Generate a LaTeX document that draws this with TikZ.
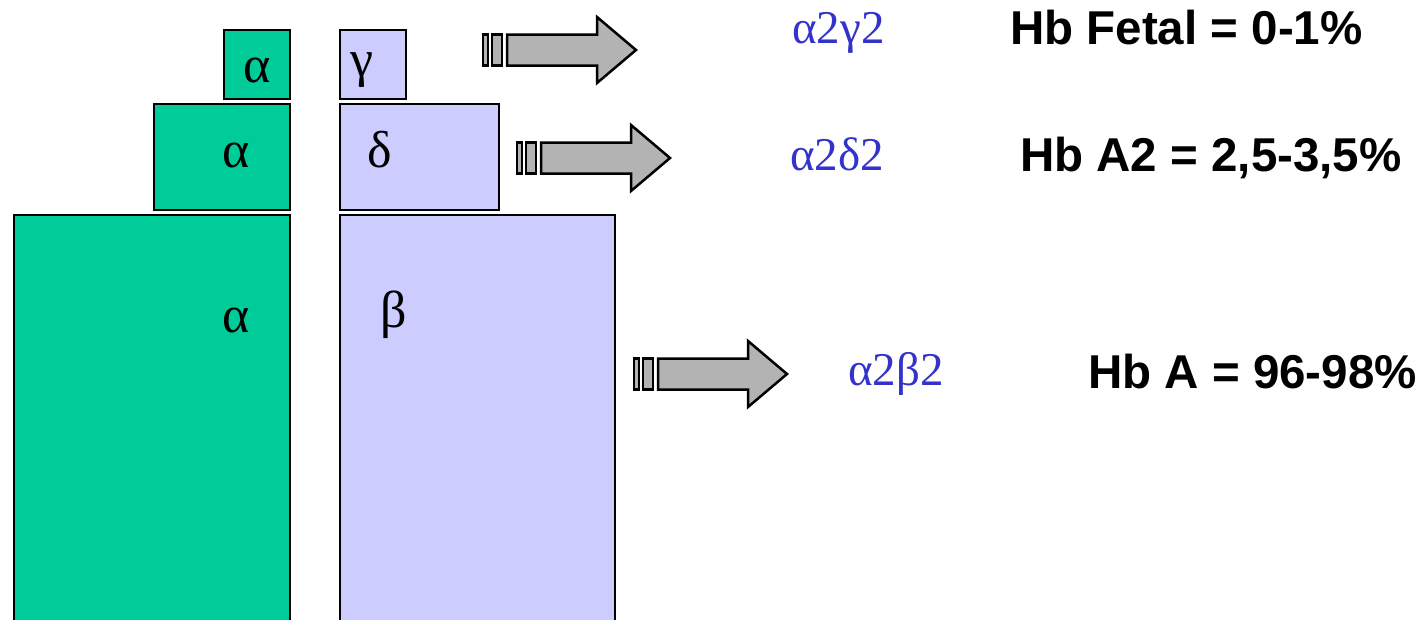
\documentclass[tikz,border=0pt]{standalone}
\usepackage{fontspec}
\setmainfont{Liberation Serif}
\newfontfamily\hbsans{Liberation Sans}
\definecolor{alphagreen}{HTML}{00CC99}
\definecolor{globlue}{HTML}{CCCCFF}
\definecolor{arrowgray}{HTML}{B3B3B3}
\definecolor{textblue}{HTML}{3333CC}
\tikzset{
  greenbox/.style={draw=black, line width=2.5pt, fill=alphagreen},
  bluebox/.style={draw=black, line width=2.5pt, fill=globlue},
  arrowpart/.style={draw=black, line width=2.5pt, fill=arrowgray, line join=miter},
  chainlabel/.style={inner sep=0pt, anchor=base, font=\fontsize{52}{58}\selectfont},
  formula/.style={inner sep=0pt, anchor=base west, text=textblue, font=\fontsize{47}{52}\selectfont},
  hbtext/.style={inner sep=0pt, anchor=base west, font=\hbsans\bfseries\fontsize{47.5}{54}\selectfont},
}
\newcommand\hbarrow[2]{%
  \begin{scope}[shift={(#1,#2)}]
    \draw[arrowpart] (0,-15.5) rectangle (5,15.5);
    \draw[arrowpart] (9,-15.5) rectangle (19,15.5);
    \draw[arrowpart] (24,-15.5) -- (114,-15.5) -- (114,-33) -- (153,0) -- (114,33) -- (114,15.5) -- (24,15.5) -- cycle;
  \end{scope}}
\begin{document}
\begin{tikzpicture}[x=1pt,y=-1pt]
\useasboundingbox (0,0) rectangle (1419,619);
\clip (0,0) rectangle (1419,619);
% globin chain boxes
\draw[greenbox] (224,30) rectangle (290,99);
\draw[bluebox] (340,30) rectangle (406,99);
\draw[greenbox] (154,104) rectangle (290,210);
\draw[bluebox] (340,104) rectangle (499,210);
\draw[greenbox] (14,215) rectangle (290,640);
\draw[bluebox] (340,215) rectangle (615,640);
% chain labels
\node[chainlabel] (a1) at (257,82) {α};
\node[chainlabel] (g1) at (362,76) {γ};
\node[chainlabel] (a2) at (236,167) {α};
\node[chainlabel] (d1) at (380,167) {δ};
\node[chainlabel] (a3) at (236,332) {α};
\node[chainlabel] (b1) at (394,327) {β};
% arrows
\hbarrow{483}{50}
\hbarrow{517}{158}
\hbarrow{634}{374}
% formulas
\node[formula] (f1) at (792,43) {α2γ2};
\node[formula] (f2) at (790,170) {α2δ2};
\node[formula] (f3) at (848,385) {α2β2};
% percentages
\node[hbtext] (h1) at (1010,44) {Hb Fetal = 0-1\%};
\node[hbtext] (h2) at (1020,171) {Hb A2 = 2,5-3,5\%};
\node[hbtext] (h3) at (1088,388) {Hb A = 96-98\%};
\end{tikzpicture}
\end{document}
